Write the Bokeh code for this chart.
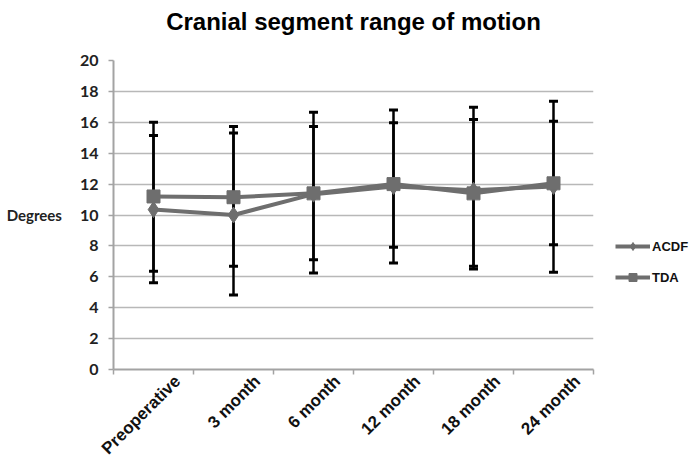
from bokeh.plotting import figure
from bokeh.models import (ColumnDataSource, Whisker, TeeHead, FixedTicker, Legend,
                          LegendItem, Range1d, Title)
from bokeh.embed import file_html
from bokeh.resources import INLINE

categories = ["Preoperative", "3 month", "6 month", "12 month", "18 month", "24 month"]

acdf_mean = [10.35, 10.0, 11.35, 11.85, 11.6, 11.85]
acdf_low = [5.61, 4.83, 7.1, 6.9, 6.69, 6.3]
acdf_high = [15.15, 15.3, 15.73, 16.8, 16.98, 17.37]

tda_mean = [11.2, 11.15, 11.4, 12.0, 11.4, 12.05]
tda_low = [6.36, 6.69, 6.24, 7.92, 6.5, 8.07]
tda_high = [16.0, 15.73, 16.65, 15.97, 16.18, 16.07]

y_ticks = [0, 2, 4, 6, 8, 10, 12, 14, 16, 18, 20]

xpos = [i + 0.5 for i in range(len(categories))]
label_shift = 0.3
label_pos = [x + label_shift for x in xpos]

LINE_COL = "#6e6e6e"
GRID_COL = "#b8b8b8"
AXIS_COL = "#a3a3a3"

p = figure(frame_width=480, frame_height=309, output_backend="svg", toolbar_location=None,
           x_range=Range1d(0, len(categories)), y_range=Range1d(0, 20),
           title="Cranial segment range of motion")
p.min_border_left = 113
p.min_border_right = 96
p.min_border_top = 60
p.min_border_bottom = 80
p.outline_line_color = None
p.background_fill_color = "white"
p.border_fill_color = "white"

p.title.align = "center"
p.title.vertical_align = "top"
p.title.text_font = "Liberation Sans"
p.title.text_font_style = "bold"
p.title.text_font_size = "24px"
p.title.text_color = "black"
p.title.standoff = 15

# empty spacer between the title and the plot area
p.add_layout(Title(text=" ", text_font_size="1px", standoff=13), "above")

# grid
p.xgrid.visible = False
p.ygrid.grid_line_color = GRID_COL
p.ygrid.grid_line_width = 1.5

# y axis
p.yaxis.ticker = FixedTicker(ticks=y_ticks)
p.yaxis.axis_line_color = AXIS_COL
p.yaxis.axis_line_width = 2
p.yaxis.major_tick_line_color = AXIS_COL
p.yaxis.major_tick_line_width = 1.5
p.yaxis.major_tick_in = 0
p.yaxis.major_tick_out = 5
p.yaxis.minor_tick_line_color = None
p.yaxis.major_label_text_font = "Lato"
p.yaxis.major_label_text_font_style = "bold"
p.yaxis.major_label_text_font_size = "16px"
p.yaxis.major_label_text_color = "#222222"
p.yaxis.major_label_standoff = 10
p.yaxis.axis_label = "Degrees"
p.yaxis.axis_label_orientation = "horizontal"
p.yaxis.axis_label_text_font = "Lato"
p.yaxis.axis_label_text_font_style = "bold"
p.yaxis.axis_label_text_font_size = "15px"
p.yaxis.axis_label_text_color = "#222222"
p.yaxis.axis_label_standoff = 15

# x axis
p.xaxis.ticker = FixedTicker(ticks=label_pos, minor_ticks=list(range(len(categories) + 1)))
p.xaxis.major_label_overrides = {x: c for x, c in zip(label_pos, categories)}
p.xaxis.axis_line_color = AXIS_COL
p.xaxis.axis_line_width = 2
p.xaxis.major_tick_in = 0
p.xaxis.major_tick_out = 0
p.xaxis.minor_tick_in = 0
p.xaxis.minor_tick_out = 5
p.xaxis.minor_tick_line_color = AXIS_COL
p.xaxis.minor_tick_line_width = 1.5
p.xaxis.major_label_orientation = 0.785398
p.xaxis.major_label_text_font = "Liberation Sans"
p.xaxis.major_label_text_font_style = "bold"
p.xaxis.major_label_text_font_size = "17px"
p.xaxis.major_label_text_color = "#111111"
p.xaxis.major_label_standoff = 4

# error bars
for low, high in ((acdf_low, acdf_high), (tda_low, tda_high)):
    src = ColumnDataSource(dict(x=xpos, lower=low, upper=high))
    w = Whisker(base="x", lower="lower", upper="upper", source=src,
                line_color="black", line_width=2.5,
                upper_head=TeeHead(size=9, line_color="black", line_width=3),
                lower_head=TeeHead(size=9, line_color="black", line_width=3))
    p.add_layout(w)

# series
acdf_src = ColumnDataSource(dict(x=xpos, y=acdf_mean))
tda_src = ColumnDataSource(dict(x=xpos, y=tda_mean))
l1 = p.line("x", "y", source=acdf_src, line_color=LINE_COL, line_width=4)
m1 = p.scatter("x", "y", source=acdf_src, marker="diamond", size=16,
               fill_color=LINE_COL, line_color=LINE_COL)
l2 = p.line("x", "y", source=tda_src, line_color=LINE_COL, line_width=4)
m2 = p.scatter("x", "y", source=tda_src, marker="square", size=13,
               fill_color=LINE_COL, line_color=LINE_COL)

legend = Legend(items=[LegendItem(label="ACDF", renderers=[l1, m1]),
                       LegendItem(label="TDA", renderers=[l2, m2])],
                location=(22, 82), orientation="vertical",
                glyph_width=35, glyph_height=20, spacing=11, padding=0, margin=0,
                label_standoff=2, border_line_color=None, background_fill_alpha=0,
                label_text_font="Liberation Sans", label_text_font_style="bold",
                label_text_font_size="13px", label_text_color="#111111")
p.add_layout(legend, "right")

open("out.html", "w").write(file_html(p, INLINE))
